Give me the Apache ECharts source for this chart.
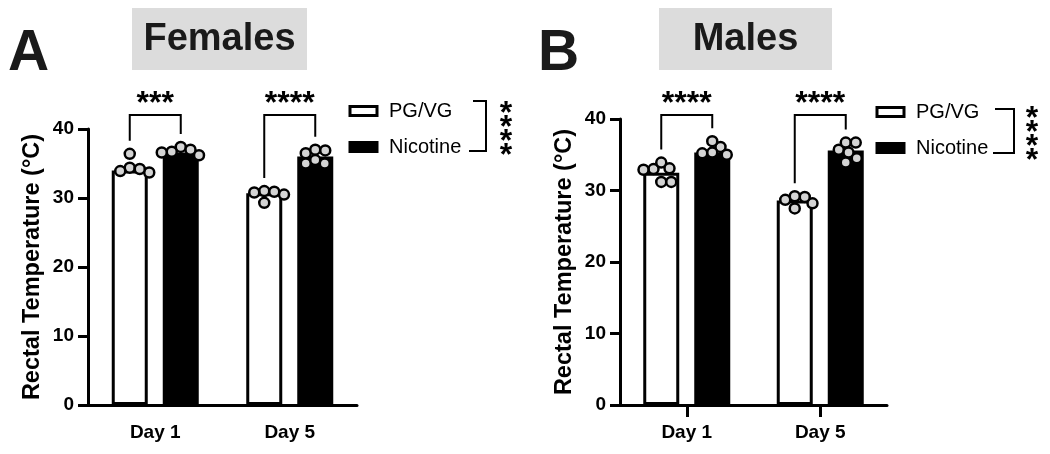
<!DOCTYPE html>
<html><head><meta charset="utf-8">
<script src="https://cdn.jsdelivr.net/npm/echarts@6/dist/echarts.min.js"></script>
<style>html,body{margin:0;padding:0;background:#fff}#c{width:1050px;height:454px}</style>
</head><body><div id="c"></div>
<script>
// ---- data ----
const categories = ['Day 1', 'Day 5'];
const groups = ['PG/VG', 'Nicotine'];
const yMax = 40, yInterval = 10;
const panelTitles = ['Females', 'Males'];
const panelLetters = ['A', 'B'];
const axisTitle = 'Rectal Temperature (°C)';
// bar heights (group means)
const femPG = [34.0, 30.7];
const femNic = [36.6, 36.0];
const malPG = [32.5, 28.6];
const malNic = [35.3, 35.6];
// individual animals
const femPGDay1 = [33.7, 34.4, 36.4, 33.9, 34.2];
const femNicDay1 = [36.2, 37.4, 36.7, 37.0, 36.6];
const femPGDay5 = [30.5, 31.0, 30.8, 30.9, 29.3];
const femNicDay5 = [36.5, 37.0, 36.9, 35.0, 35.0, 35.5];
const malPGDay1 = [33.0, 33.9, 32.9, 33.1, 31.2, 31.2];
const malNicDay1 = [35.2, 36.1, 36.9, 35.3, 35.0];
const malPGDay5 = [28.2, 29.1, 28.7, 29.2, 27.5];
const malNicDay5 = [35.7, 36.7, 36.7, 35.3, 33.9, 34.5];
// significance
const femSig = ['***', '****'];
const malSig = ['****', '****'];
const femOverall = '****';
const malOverall = '****';

// ---- layout / style ----
const FONT = 'Liberation Sans, Arial, sans-serif';
const panels = [
  {bars: [femPG, femNic], pts: [[femPGDay1, femPGDay5], [femNicDay1, femNicDay5]], sig: femSig, overall: femOverall,
   grid: {left: 88, right: 693, top: 129, bottom: 49}, xTicks: false,
   titleBox: [132, 8, 175, 62], letterX: 8,
   legend: {left: 343.5, top: 96}, bracket: [[473,101],[486,101],[486,151],[469,151]], starsX: 506, starsY: 107},
  {bars: [malPG, malNic], pts: [[malPGDay1, malPGDay5], [malNicDay1, malNicDay5]], sig: malSig, overall: malOverall,
   grid: {left: 620, right: 163, top: 119, bottom: 49}, xTicks: true,
   titleBox: [659, 8, 173, 62], letterX: 538,
   legend: {left: 870.5, top: 97}, bracket: [[995,109],[1014,109],[1014,153],[993,153]], starsX: 1032, starsY: 112}
];
const BAR_W = 36, BAR_GAP_PX = 15, BORDER = 3;
const groupOffset = [-(BAR_W + BAR_GAP_PX) / 2, (BAR_W + BAR_GAP_PX) / 2];
const DOT = 10, DOT_D = 10;
const BRACKET_TOP = 115;
const STAR_FONT = 'bold 32px ' + FONT;

const chart = echarts.init(document.getElementById('c'), null, {renderer: 'canvas'});

function axesOption() {
  return {
    animation: false,
    grid: panels.map(p => Object.assign({containLabel: false}, p.grid)),
    xAxis: panels.map((p, i) => ({
      type: 'category', gridIndex: i, data: categories,
      axisLine: {lineStyle: {color: '#000', width: 3}},
      axisTick: {show: p.xTicks, alignWithLabel: true, length: 12, lineStyle: {color: '#000', width: 3}},
      axisLabel: {color: '#000', fontFamily: FONT, fontWeight: 'bold', fontSize: 19, margin: 18}
    })),
    yAxis: panels.map((p, i) => ({
      type: 'value', gridIndex: i, min: 0, max: yMax, interval: yInterval,
      name: axisTitle, nameLocation: 'middle', nameGap: 43,
      nameTextStyle: {color: '#000', fontFamily: FONT, fontWeight: 'bold', fontSize: 23.5},
      axisLine: {show: true, lineStyle: {color: '#000', width: 3}},
      axisTick: {show: true, length: 10, lineStyle: {color: '#000', width: 3}},
      axisLabel: {color: '#000', fontFamily: FONT, fontWeight: 'bold', fontSize: 19, margin: 14},
      splitLine: {show: false}
    }))
  };
}

chart.setOption(axesOption());

function swarm(values, pxPerUnit) {
  const order = values.map((v, i) => i).sort((a, b) => values[b] - values[a]);
  const placed = [], offs = [];
  for (const i of order) {
    const y = -values[i] * pxPerUnit;
    let best = 0;
    search:
    for (let m = 0; m <= 40; m += 0.25) {
      for (const s of (m === 0 ? [0] : [1, -1])) {
        const x = s * m;
        if (placed.every(q => Math.hypot(q.x - x, q.y - y) >= DOT_D)) { best = x; break search; }
      }
    }
    placed.push({x: best, y}); offs[i] = best;
  }
  return offs;
}

const opt = axesOption();
opt.series = [];
opt.legend = [];
opt.graphic = [];
panels.forEach((p, gi) => {
  const y0 = chart.convertToPixel({yAxisIndex: gi}, 0);
  const y10 = chart.convertToPixel({yAxisIndex: gi}, 10);
  const ppu = (y0 - y10) / 10;
  groups.forEach((g, k) => {
    opt.series.push({
      type: 'bar', name: g, xAxisIndex: gi, yAxisIndex: gi, data: p.bars[k],
      barWidth: BAR_W, barGap: (BAR_GAP_PX / BAR_W * 100) + '%', z: 2,
      itemStyle: {color: k === 0 ? '#fff' : '#000', borderColor: '#000', borderWidth: BORDER}
    });
  });
  groups.forEach((g, k) => {
    const data = [];
    p.pts[k].forEach((vals, ci) => {
      const offs = swarm(vals, ppu);
      vals.forEach((v, j) => data.push({value: [ci, v], symbolOffset: [groupOffset[k] + offs[j], 0]}));
    });
    opt.series.push({
      type: 'scatter', name: g + ' animals', xAxisIndex: gi, yAxisIndex: gi, data,
      symbol: 'circle', symbolSize: DOT, z: 4,
      itemStyle: {color: '#d4d4d4', borderColor: '#000', borderWidth: 2.5, opacity: 1}
    });
  });
  opt.legend.push({
    data: groups, orient: 'vertical', left: p.legend.left, top: p.legend.top,
    icon: 'rect', itemWidth: 27, itemHeight: 9, itemGap: 16, selectedMode: false,
    itemStyle: {borderColor: '#000', borderWidth: 3},
    textStyle: {color: '#000', fontFamily: FONT, fontSize: 20, padding: [0, 0, 0, 7], lineHeight: 20}
  });
  const [bx, by, bw, bh] = p.titleBox;
  opt.graphic.push({type: 'rect', shape: {x: bx, y: by, width: bw, height: bh}, style: {fill: '#dcdcdc'}, z: 1});
  opt.graphic.push({type: 'text', x: bx + bw / 2, y: by + bh / 2 + 1,
    style: {text: panelTitles[gi], fill: '#1a1a1a', font: 'bold 38px ' + FONT, textAlign: 'center', textVerticalAlign: 'middle'}, z: 2});
  opt.graphic.push({type: 'text', x: p.letterX, y: 54,
    style: {text: panelLetters[gi], fill: '#1a1a1a', font: 'bold 57px ' + FONT, textAlign: 'left', textVerticalAlign: 'middle'}, z: 2});
  categories.forEach((c, ci) => {
    const cx = chart.convertToPixel({xAxisIndex: gi}, c);
    const xl = cx + groupOffset[0], xr = cx + groupOffset[1];
    const yl = chart.convertToPixel({yAxisIndex: gi}, Math.max(...p.pts[0][ci])) - 13;
    const yr = chart.convertToPixel({yAxisIndex: gi}, Math.max(...p.pts[1][ci])) - 13;
    opt.graphic.push({type: 'polyline', shape: {points: [[xl, yl], [xl, BRACKET_TOP], [xr, BRACKET_TOP], [xr, yr]]},
      style: {stroke: '#000', lineWidth: 2, fill: null}, z: 5});
    opt.graphic.push({type: 'text', x: (xl + xr) / 2, y: BRACKET_TOP + 5,
      style: {text: p.sig[ci], fill: '#000', font: STAR_FONT, textAlign: 'center', textVerticalAlign: 'bottom'}, z: 5});
  });
  opt.graphic.push({type: 'polyline', shape: {points: p.bracket}, style: {stroke: '#000', lineWidth: 2, fill: null}, z: 5});
  opt.graphic.push({type: 'text', x: p.starsX, y: p.starsY,
    style: {text: p.overall.split('').join('\n'), fill: '#000', font: STAR_FONT, textAlign: 'center', textVerticalAlign: 'top', lineHeight: 14}, z: 5});
});
chart.setOption(opt, true);
</script>
</body></html>
